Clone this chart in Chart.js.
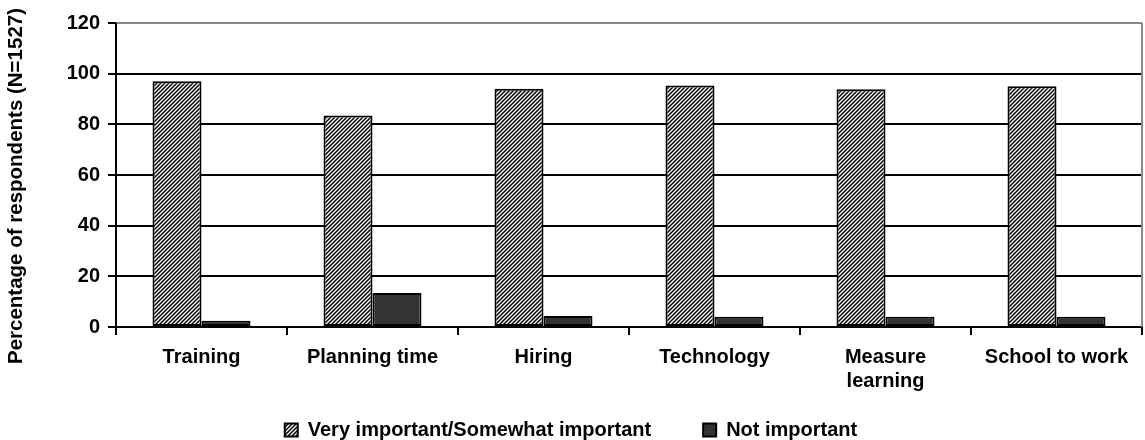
<!DOCTYPE html>
<html>
<head>
<meta charset="utf-8">
<script src="https://cdn.jsdelivr.net/npm/chart.js@4.4.0/dist/chart.umd.min.js"></script>
<style>
  html, body { margin: 0; padding: 0; background: #fff; }
  #wrap { width: 1145px; height: 440px; }
</style>
</head>
<body>
<div id="wrap"><canvas id="impChart" width="1145" height="440"></canvas></div>
<script>
const categories = ["Training", "Planning time", "Hiring", "Technology", ["Measure", "learning"], "School to work"];
const importantVals = [97, 83.5, 94, 95.3, 93.8, 95];
const notImportantVals = [2.5, 13.4, 4.3, 4, 4, 4];
const yTicks = [0, 20, 40, 60, 80, 100, 120];

// diagonal hatch like the old spreadsheet fill
function hatch() {
	const c = document.createElement("canvas");
	c.width = 4;
	c.height = 4;
	const g = c.getContext("2d");
	g.fillStyle = "#fff";
	g.fillRect(0, 0, 4, 4);
	g.strokeStyle = "#000";
	g.lineWidth = 1.5;
	g.beginPath();
	g.moveTo(-1, 5);
	g.lineTo(5, -1);
	g.moveTo(-1, 1);
	g.lineTo(1, -1);
	g.moveTo(3, 5);
	g.lineTo(5, 3);
	g.stroke();
	return g.createPattern(c, "repeat");
}

function vline(ctx, x, a, color) {
	ctx.save();
	ctx.strokeStyle = color;
	ctx.lineWidth = 2;
	ctx.beginPath();
	ctx.moveTo(x, a.top);
	ctx.lineTo(x, a.bottom);
	ctx.stroke();
	ctx.restore();
}

const frame = {
	id: "frame",
	afterLayout(chart) {
		// let the two-line label spill below the x axis box (labels are clipped to it)
		chart.scales.x.bottom += 30;
		// push the rotated y title centre down a bit, like the original
		chart.scales.y.bottom += 22;
	},
	afterDraw(chart) {
		const a = chart.chartArea;
		vline(chart.ctx, a.right, a, "#888");
		vline(chart.ctx, a.left, a, "#000");
	},
};

const font = { family: "'Liberation Sans', Arial, sans-serif", weight: "bold", size: 20 };

const myChart = new Chart(document.getElementById("impChart").getContext("2d"), {
	type: "bar",
	data: {
		labels: categories,
		datasets: [
			{
				label: "Very important/Somewhat important",
				data: importantVals,
				backgroundColor: hatch(),
				borderColor: "#000",
				borderWidth: 2,
				borderSkipped: false,
				categoryPercentage: 0.573,
				barPercentage: 1,
			},
			{
				label: "Not important",
				data: notImportantVals,
				backgroundColor: "#333",
				borderColor: "#000",
				borderWidth: 2,
				borderSkipped: false,
				categoryPercentage: 0.573,
				barPercentage: 1,
			},
		],
	},
	options: {
		responsive: false,
		animation: false,
		layout: { padding: { top: 23, right: 3, left: 0, bottom: -10 } },
		plugins: {
			tooltip: { enabled: false },
			legend: {
				position: "bottom",
				labels: {
					color: "#000",
					font: font,
					boxWidth: 13,
					boxHeight: 13,
					padding: 52,
				},
			},
		},
		scales: {
			x: {
				offset: true,
				afterFit(scale) {
					scale.height = 41;
				},
				grid: {
					offset: true,
					drawOnChartArea: false,
					drawTicks: true,
					tickLength: 8,
					color: "#000",
					lineWidth: 2,
				},
				border: { color: "#000", width: 2 },
				ticks: { color: "#000", font: font, padding: 10, maxRotation: 0 },
			},
			y: {
				min: 0,
				max: 120,
				afterBuildTicks(axis) {
					axis.ticks = yTicks.map((v) => ({ value: v }));
				},
				afterFit(scale) {
					scale.width = 116;
				},
				grid: {
					color: (c) => (c.tick && c.tick.value === 120 ? "#888" : "#000"),
					tickColor: "#000",
					lineWidth: 2,
					tickLength: 8,
				},
				border: { display: false },
				ticks: { color: "#000", font: font, padding: 8 },
				title: {
					display: true,
					text: "Percentage of respondents (N=1527)",
					color: "#000",
					font: { family: font.family, weight: "bold", size: 20.5 },
					padding: { top: 4, bottom: 4 },
				},
			},
		},
	},
	plugins: [frame],
});
</script>
</body>
</html>
